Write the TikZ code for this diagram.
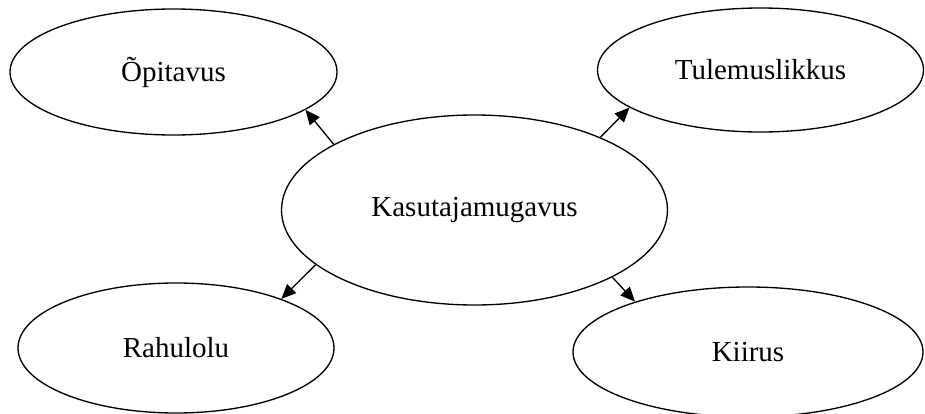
\documentclass[tikz,border=0pt]{standalone}
\usepackage{fontspec}
\setmainfont{Liberation Serif}
\usetikzlibrary{shapes.geometric,arrows.meta}

\begin{document}
\begin{tikzpicture}[x=0.75pt,y=-0.75pt,
  bubble/.style={draw=black,line width=1pt,ellipse,inner sep=0pt,
    font=\fontsize{21.75pt}{26pt}\selectfont},
  link/.style={draw=black,line width=1pt,-{Triangle[length=11pt,width=9.5pt]}}]
  \useasboundingbox (0,0) rectangle (925,414);

  % central quality and its four aspects
  \node[bubble,minimum width=289.5pt,minimum height=142.5pt] (kasu) at (474.5,210) {Kasutajamugavus};
  \node[bubble,minimum width=245.25pt,minimum height=94.5pt] (opi) at (173.5,72) {Õpitavus};
  \node[bubble,minimum width=244.5pt,minimum height=93pt] (tule) at (760.5,70) {Tulemuslikkus};
  \node[bubble,minimum width=237pt,minimum height=97.5pt] (rahu) at (176,348) {Rahulolu};
  \node[bubble,minimum width=262.5pt,minimum height=97.5pt] (kiir) at (748,352) {Kiirus};

  % arrows from the centre outwards
  \draw[link] (kasu.155.5) -- (opi.-16.4);
  \draw[link] (kasu.30.4) -- (tule.196.1);
  \draw[link] (kasu.199.6) -- (rahu.25.1);
  \draw[link] (kasu.-26) -- (kiir.156.2);
\end{tikzpicture}
\end{document}
